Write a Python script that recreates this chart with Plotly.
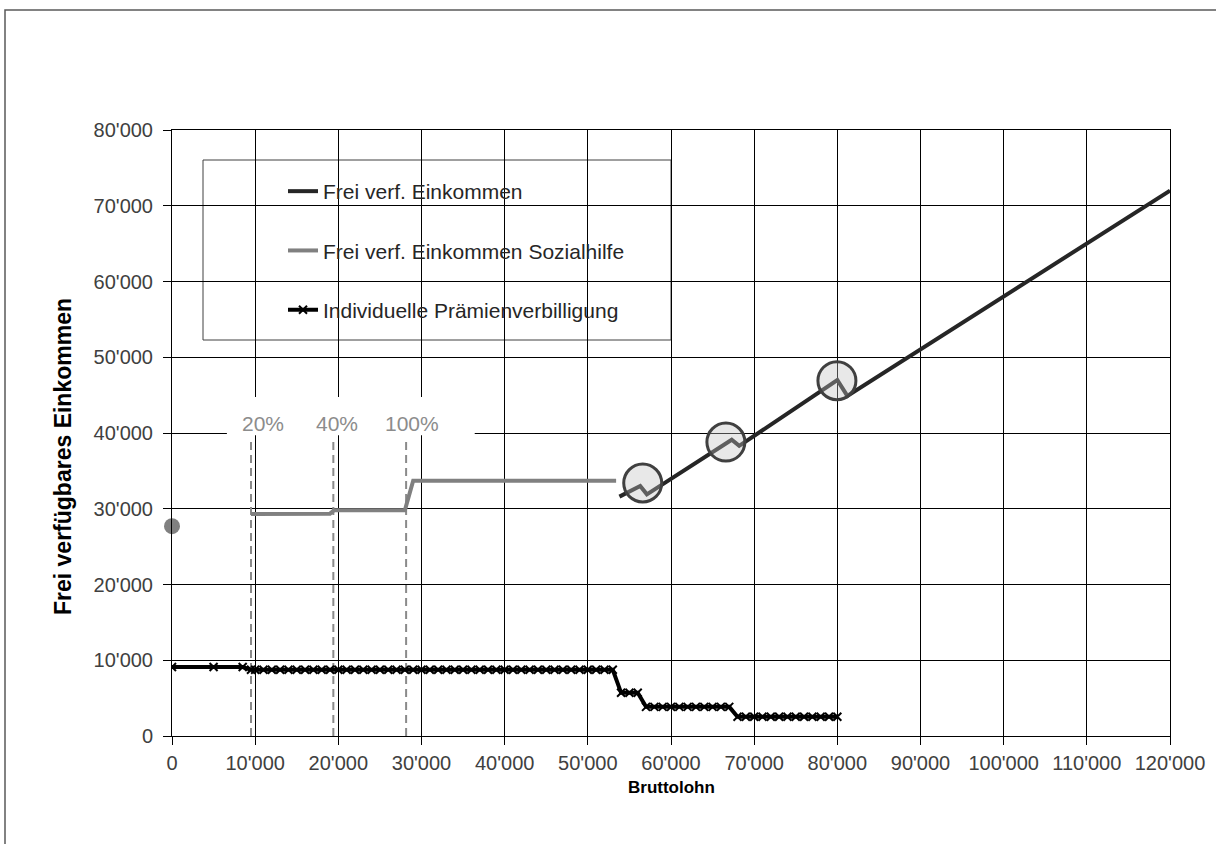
import plotly.graph_objects as go

# ---------------- data ----------------
# Frei verfügbares Einkommen (ohne Sozialhilfe)
fve_x = [53800, 56300, 57100, 67300, 68200, 80000, 81200, 120000]
fve_y = [31600, 33000, 31900, 39100, 38300, 47000, 44900, 72000]

# Frei verfügbares Einkommen mit Sozialhilfe
soz_x = [9500, 19000, 19500, 28000, 29000, 53400]
soz_y = [29300, 29350, 29800, 29800, 33700, 33700]

# Sozialhilfe ohne Erwerbseinkommen (Punkt bei 0)
soz0_x = [0]
soz0_y = [27700]

# Individuelle Prämienverbilligung
ipv_x = [0, 5000, 8500, 9500,
         10000, 11000, 12000, 13000, 14000, 15000, 16000, 17000, 18000, 19000,
         20000, 21000, 22000, 23000, 24000, 25000, 26000, 27000, 28000, 29000,
         30000, 31000, 32000, 33000, 34000, 35000, 36000, 37000, 38000, 39000,
         40000, 41000, 42000, 43000, 44000, 45000, 46000, 47000, 48000, 49000,
         50000, 51000, 52000, 53000,
         54000, 55000, 56000,
         57000, 58000, 59000, 60000, 61000, 62000, 63000, 64000, 65000, 66000, 67000,
         68000, 69000, 70000, 71000, 72000, 73000, 74000, 75000, 76000, 77000, 78000, 79000, 80000]
ipv_y = [9100, 9100, 9100, 8750,
         8750, 8750, 8750, 8750, 8750, 8750, 8750, 8750, 8750, 8750,
         8750, 8750, 8750, 8750, 8750, 8750, 8750, 8750, 8750, 8750,
         8750, 8750, 8750, 8750, 8750, 8750, 8750, 8750, 8750, 8750,
         8750, 8750, 8750, 8750, 8750, 8750, 8750, 8750, 8750, 8750,
         8750, 8750, 8750, 8750,
         5700, 5700, 5700,
         3850, 3850, 3850, 3850, 3850, 3850, 3850, 3850, 3850, 3850, 3850,
         2550, 2550, 2550, 2550, 2550, 2550, 2550, 2550, 2550, 2550, 2550, 2550, 2550]

# Schwelleneffekte (Kreise)
circle_x = [56600, 66600, 79950]
circle_y = [33400, 38800, 46900]

# Grenzen Sozialhilfe-Ansätze (gestrichelte Linien)
threshold_x = [9500, 19400, 28150]
threshold_top = 39400
threshold_labels = ["20%", "40%", "100%"]
threshold_label_x = [11000, 19800, 28900]
threshold_label_y = 41200

x_ticks = [0, 10000, 20000, 30000, 40000, 50000, 60000, 70000, 80000, 90000, 100000, 110000, 120000]
x_ticktext = ["0", "10'000", "20'000", "30'000", "40'000", "50'000", "60'000", "70'000",
              "80'000", "90'000", "100'000", "110'000", "120'000"]
y_ticks = [0, 10000, 20000, 30000, 40000, 50000, 60000, 70000, 80000]
y_ticktext = ["0", "10'000", "20'000", "30'000", "40'000", "50'000", "60'000", "70'000", "80'000"]

x_title = "Bruttolohn"
y_title = "Frei verfügbares Einkommen"

FONT = "Liberation Sans"

fig = go.Figure()

# dashed threshold lines
dx, dy = [], []
for tx in threshold_x:
    dx += [tx, tx, None]
    dy += [0, threshold_top, None]
fig.add_trace(go.Scatter(x=dx, y=dy, mode="lines", showlegend=False, hoverinfo="skip",
                         line=dict(color="#8a8a8a", width=2, dash="8px,5px")))

# IPV
fig.add_trace(go.Scatter(x=ipv_x, y=ipv_y, mode="lines+markers",
                         name="Individuelle Prämienverbilligung", legendrank=3,
                         legendgroup="c",
                         line=dict(color="#000000", width=4),
                         marker=dict(symbol="x-thin", size=8, color="#000000",
                                     line=dict(color="#000000", width=2))))

# Sozialhilfe line
fig.add_trace(go.Scatter(x=soz_x, y=soz_y, mode="lines",
                         name="Frei verf. Einkommen Sozialhilfe", legendrank=2,
                         legendgroup="b",
                         line=dict(color="#808080", width=4)))

# Sozialhilfe point at 0
fig.add_trace(go.Scatter(x=soz0_x, y=soz0_y, mode="markers", showlegend=False,
                         cliponaxis=False,
                         marker=dict(color="#808080", size=16)))

# Frei verf. Einkommen
fig.add_trace(go.Scatter(x=fve_x, y=fve_y, mode="lines",
                         name="Frei verf. Einkommen", legendrank=1,
                         legendgroup="a",
                         line=dict(color="#262626", width=4)))

# highlight circles
fig.add_trace(go.Scatter(x=circle_x, y=circle_y, mode="markers", showlegend=False,
                         marker=dict(symbol="circle", size=38,
                                     color="rgba(193,193,193,0.37)",
                                     line=dict(color="#404040", width=3))))

# white background box behind percentage labels
fig.add_shape(type="rect", xref="x", yref="y", x0=6600, x1=36400, y0=39700, y1=44750,
              fillcolor="white", line=dict(width=0), layer="between")

for lx, lt in zip(threshold_label_x, threshold_labels):
    fig.add_annotation(x=lx, y=threshold_label_y, text=lt, showarrow=False,
                       font=dict(family=FONT, size=21, color="#8c8c8c"))


def px_to_paper_x(px):
    return (px - 172) / 998.0


def px_to_paper_y(py):
    return (736 - py) / 606.0


# axis titles
fig.add_annotation(xref="paper", yref="paper", x=px_to_paper_x(671), y=px_to_paper_y(787),
                   text="<b>" + x_title + "</b>", showarrow=False,
                   xanchor="center", yanchor="middle",
                   font=dict(family=FONT, size=17, color="#000000"))
fig.add_annotation(xref="paper", yref="paper", x=px_to_paper_x(63), y=px_to_paper_y(457),
                   text="<b>" + y_title + "</b>", showarrow=False, textangle=-90,
                   xanchor="center", yanchor="middle",
                   font=dict(family=FONT, size=23, color="#000000"))

# legend box
fig.add_shape(type="rect", xref="paper", yref="paper",
              x0=px_to_paper_x(203), x1=px_to_paper_x(671),
              y0=px_to_paper_y(340), y1=px_to_paper_y(160),
              fillcolor="white", line=dict(color="#404040", width=1), layer="between")

# outer frame
fig.add_shape(type="rect", xref="paper", yref="paper",
              x0=px_to_paper_x(5), x1=px_to_paper_x(1400),
              y0=px_to_paper_y(1000), y1=px_to_paper_y(10),
              fillcolor="rgba(0,0,0,0)", line=dict(color="#595959", width=1.5), layer="below")

axis_common = dict(showgrid=True, gridcolor="#000000", gridwidth=1,
                   showline=True, linecolor="#000000", linewidth=1, mirror=True,
                   ticks="outside", ticklen=8, tickcolor="#000000", tickwidth=1,
                   zeroline=False,
                   tickfont=dict(family=FONT, size=20, color="#404040"))

fig.update_layout(
    width=1216, height=844,
    margin=dict(l=172, r=46, t=130, b=108),
    paper_bgcolor="white", plot_bgcolor="white",
    font=dict(family=FONT),
    xaxis=dict(range=[0, 120000], tickvals=x_ticks, ticktext=x_ticktext,
               ticklabelstandoff=1, **axis_common),
    yaxis=dict(range=[0, 80000], tickvals=y_ticks, ticktext=y_ticktext,
               ticklabelstandoff=6, **axis_common),
    legend=dict(x=px_to_paper_x(283), y=px_to_paper_y(171), xanchor="left", yanchor="top",
                bgcolor="rgba(0,0,0,0)", borderwidth=0,
                font=dict(family=FONT, size=21, color="#262626"),
                tracegroupgap=29, traceorder="grouped"),
    showlegend=True,
)

fig.write_html("out.html")
